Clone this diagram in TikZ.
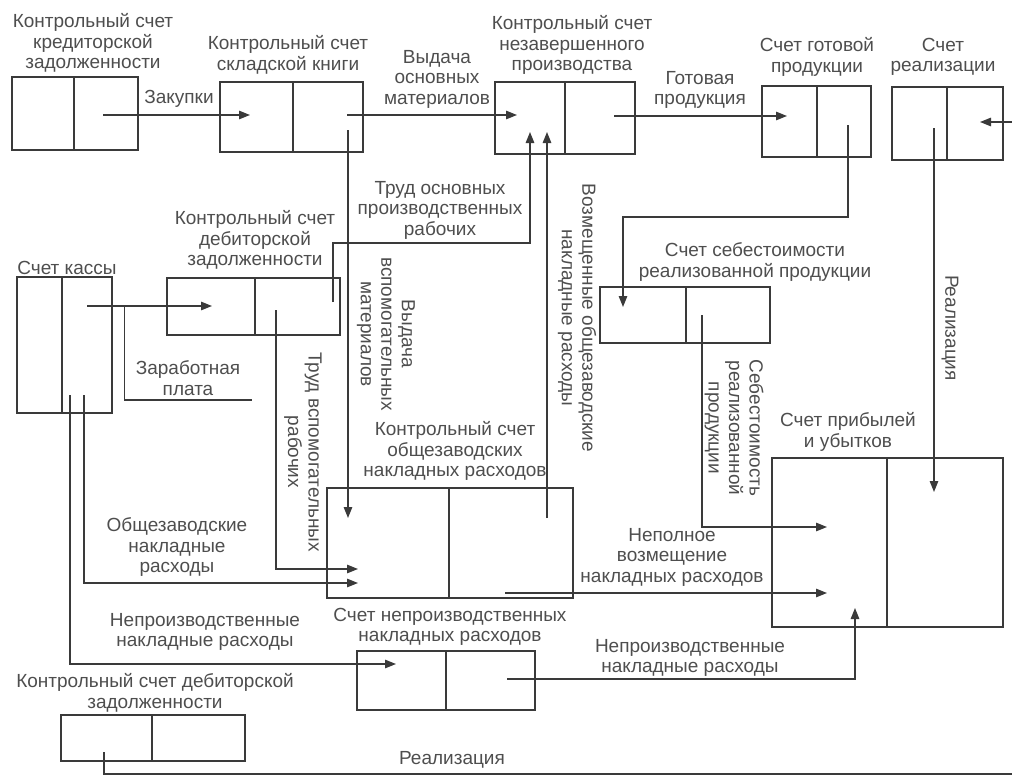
\documentclass[tikz,border=0pt]{standalone}
\usepackage{fontspec}
\setmainfont{Liberation Sans}
\usetikzlibrary{arrows.meta}
\definecolor{ink}{HTML}{3A3A3A}
\definecolor{txt}{HTML}{4E4E4E}
% T-account: name, left x, top y, divider x, right x, bottom y
\newcommand\acct[6]{%
  \node[cell, minimum width={(#4-#2)*1pt}, minimum height={(#6-#3)*1pt}]
    (#1l) at ({(#2+#4)/2},{(#3+#6)/2}) {};
  \node[cell, minimum width={(#5-#4)*1pt}, minimum height={(#6-#3)*1pt}]
    (#1r) at ({(#4+#5)/2},{(#3+#6)/2}) {};}
\begin{document}
\begin{tikzpicture}[x=1pt,y=-1pt,
  cell/.style={draw=ink, line width=2.6pt, inner sep=0pt, outer sep=0pt},
  conn/.style={draw=ink, line width=1.3pt},
  arr/.style={conn, -{Triangle[length=11pt,width=8.5pt]}},
  lbl/.style={text=txt, font=\fontsize{19}{20.5}\selectfont, align=center, inner sep=0pt},
  vlbl/.style={lbl, rotate=-90}]
\useasboundingbox (0,0) rectangle (1012,779);

% accounts
\acct{A}{12}{77}{74}{138}{150}
\acct{B}{220}{82}{293}{363}{152}
\acct{C}{495}{82}{565}{635}{154}
\acct{D}{762}{86}{817}{871}{157}
\acct{E}{892}{87}{947}{1003}{160}
\acct{F}{772}{458}{887}{1003}{627}
\acct{G}{600}{287}{686}{770}{343}
\acct{H}{17}{277}{62}{112}{413}
\acct{J}{167}{278}{255}{340}{335}
\acct{K}{327}{488}{449}{573}{598}
\acct{I}{357}{651}{446}{535}{710}
\acct{L}{61}{715}{152}{245}{761}

% account titles
\node[lbl] (tA) at (93,43) {Контрольный счет\\кредиторской\\задолженности};
\node[lbl] (tB) at (288,55) {Контрольный счет\\складской книги};
\node[lbl] (tC) at (572,45) {Контрольный счет\\незавершенного\\производства};
\node[lbl] (tD) at (817,57) {Счет готовой\\продукции};
\node[lbl] (tE) at (943,57) {Счет\\реализации};
\node[lbl] (tJ) at (255,240) {Контрольный счет\\дебиторской\\задолженности};
\node[lbl] (tH) at (67,268) {Счет кассы};
\node[lbl] (tG) at (755,262) {Счет себестоимости\\реализованной продукции};
\node[lbl] (tF) at (848,432) {Счет прибылей\\и убытков};
\node[lbl] (tK) at (455,451) {Контрольный счет\\общезаводских\\накладных расходов};
\node[lbl] (tI) at (450,627) {Счет непроизводственных\\накладных расходов};
\node[lbl] (tL) at (155,693) {Контрольный счет дебиторской\\задолженности};

% flow labels
\node[lbl] (fPurch) at (179,99) {Закупки};
\node[lbl] (fMat) at (437,79) {Выдача\\основных\\материалов};
\node[lbl] (fGoods) at (700,90) {Готовая\\продукция};
\node[lbl] (fLab) at (440,210) {Труд основных\\производственных\\рабочих};
\node[lbl] (fWage) at (188,378) {Заработная\\плата};
\node[vlbl] (fAux) at (386,334) {Выдача\\вспомогательных\\материалов};
\node[vlbl] (fRecov) at (577,318) {Возмещенные общезаводские\\накладные расходы};
\node[vlbl] (fAuxLab) at (303,452) {Труд вспомогательных\\рабочих};
\node[vlbl] (fCost) at (734,428) {Себестоимость\\реализованной\\продукции};
\node[vlbl] (fSales) at (950,328) {Реализация};
\node[lbl] (fOver) at (177,547) {Общезаводские\\накладные\\расходы};
\node[lbl] (fUnder) at (672,557) {Неполное\\возмещение\\накладных расходов};
\node[lbl] (fNonL) at (205,632) {Непроизводственные\\накладные расходы};
\node[lbl] (fNonR) at (690,658) {Непроизводственные\\накладные расходы};
\node[lbl] (fSalesB) at (452,760) {Реализация};

% free ends at the edges
\coordinate (eIn) at (1012,122);
\coordinate (eOut) at (1012,774);
\coordinate (wageEnd) at (252,400);

% connectors
\draw[arr] ([shift={(-3,1.5)}]Ar.center) -- ([shift={(-6.5,-2)}]Bl.center);
\draw[arr] ([shift={(19,-2)}]Br.center) -- ([shift={(-13,-3)}]Cl.center);
\draw[arr] ([shift={(14,-2)}]Cr.center) -- ([shift={(-2.5,-5.5)}]Dl.center);
\draw[arr] (eIn) -- ([shift={(5,-1.5)}]Er.center);
\draw[arr] ([shift={(20,13)}]Br.center) -- ([shift={(-40,-25)}]Kl.center);
\draw[arr] ([shift={(35.5,-4.5)}]Jr.center) -- ++(0,-59) -| ([shift={(0,14)}]Cl.center);
\draw[arr] ([shift={(36,-25)}]Kr.center) -- ([shift={(17,14)}]Cl.center);
\draw[arr] ([shift={(4,3.5)}]Dr.center) -- ++(0,92) -| ([shift={(-20,-8)}]Gl.center);
\draw[arr] ([shift={(14.5,4.5)}]El.center) -- ([shift={(-11,-50.5)}]Fr.center);
\draw[arr] ([shift={(-26,0)}]Gr.center) |- ([shift={(-2.5,-15.5)}]Fl.center);
\draw[arr] ([shift={(-6,50)}]Kr.center) -- ([shift={(-2.5,50.5)}]Fl.center);
\draw[arr] ([shift={(16.5,-1.5)}]Ir.center) -| ([shift={(25.5,65.5)}]Fl.center);
\draw[arr] ([shift={(0,-39)}]Hr.center) -- coordinate[pos=0.3] (wj) ([shift={(1,-0.5)}]Jl.center);
\draw[conn] (wj) |- (wageEnd);
\draw[arr] ([shift={(-21.5,3.5)}]Jr.center) |- ([shift={(-30,26)}]Kl.center);
\draw[arr] ([shift={(-3,50)}]Hr.center) |- ([shift={(-30,40)}]Kl.center);
\draw[arr] ([shift={(-17,50)}]Hr.center) |- ([shift={(-5.5,-16.5)}]Il.center);
\draw[conn] ([shift={(-2.5,14)}]Ll.center) |- (eOut);
\end{tikzpicture}
\end{document}
